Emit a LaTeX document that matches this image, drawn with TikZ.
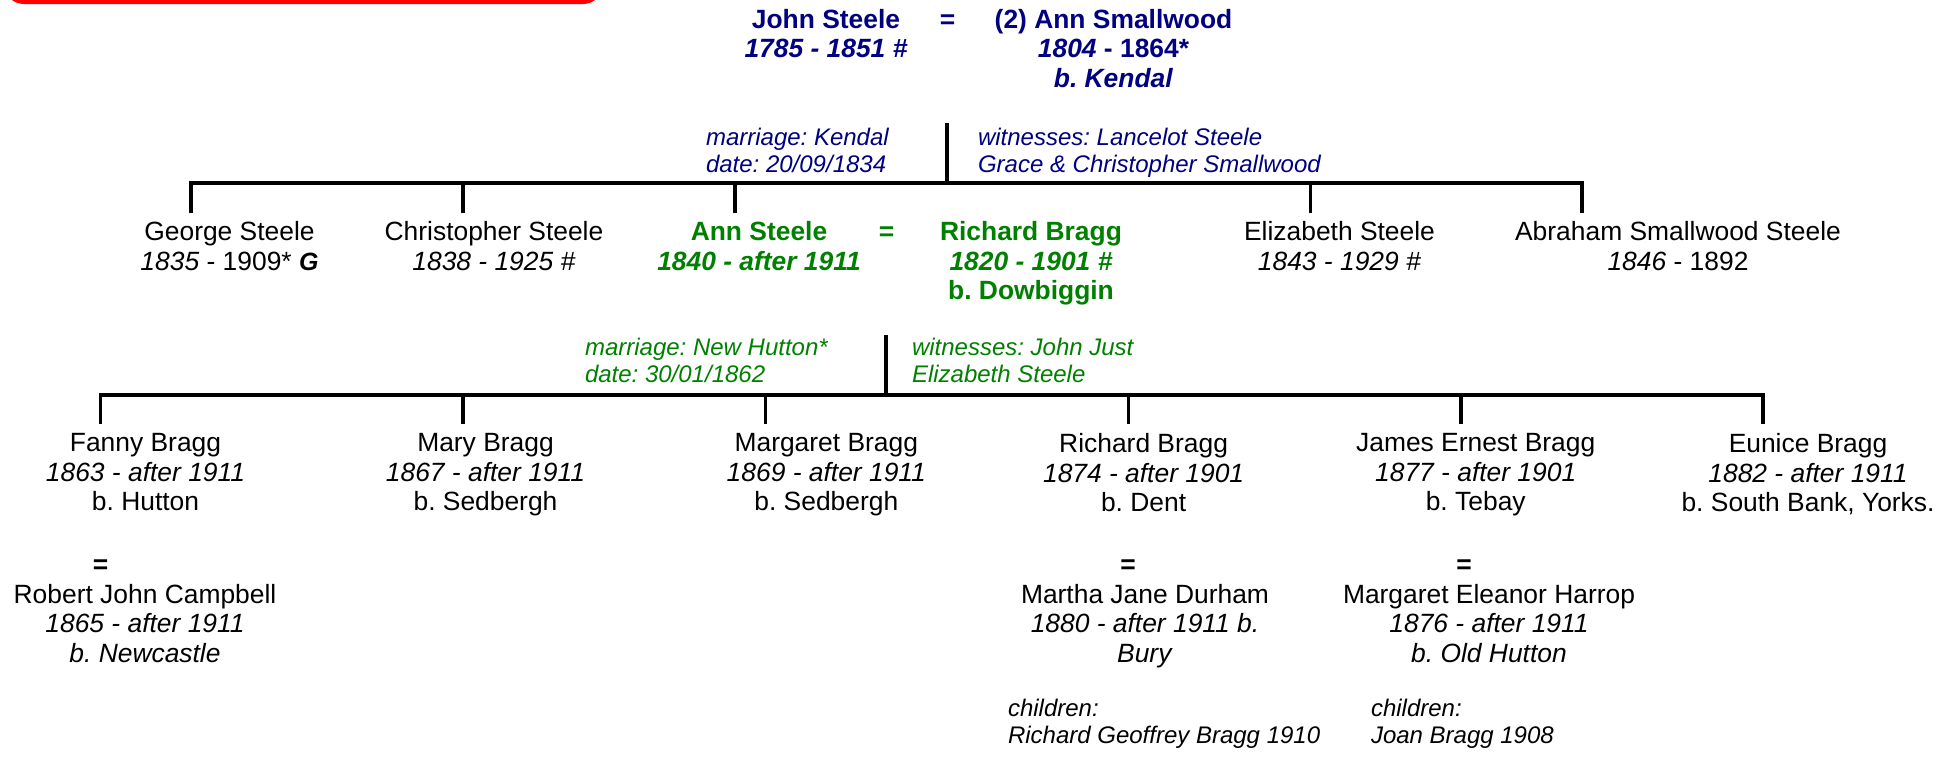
\documentclass[tikz,border=0pt]{standalone}
\usepackage{fontspec}
\setmainfont{Liberation Sans}
\definecolor{navy}{RGB}{0,0,128}
\definecolor{dgreen}{RGB}{0,128,0}
\newcommand\namefont{\fontsize{13.2}{14.75}\selectfont}
\newcommand\annfont{\fontsize{12}{13.35}\selectfont\itshape}
\frenchspacing
\begin{document}
\frenchspacing
\begin{tikzpicture}[x=0.5pt,y=-0.5pt,
  every node/.style={inner sep=0pt, outer sep=0pt},
  pn/.style={anchor=north, align=center, font=\namefont},
  eqs/.style={anchor=base, font=\namefont\bfseries},
  ann/.style={anchor=north west, align=left, font=\annfont},
  conn/.style={line width=1.75pt, line join=miter}]
\useasboundingbox (0,0) rectangle (1948,757);
\begin{scope}
\clip (0,0) rectangle (1948,757);
\fill[red, rounded corners=10pt] (4,-40) rectangle (603,4);
\end{scope}

% generation 1
\node[pn, text=navy, font=\namefont\bfseries] (js) at (826,9.3) {John Steele\\\textit{1785 - 1851 \#}};
\node[eqs, text=navy] (eq1) at (947.5,28.3) {=};
\node[pn, text=navy, font=\namefont\bfseries] (as) at (1113.5,9.3) {(2) Ann Smallwood\\\textit{1804} - 1864*\\\textit{b. Kendal}};

\node[ann, text=navy] (mk) at (706,128) {marriage: Kendal\\date: 20/09/1834};
\node[ann, text=navy] (wk) at (978,128) {witnesses: Lancelot Steele\\Grace \& Christopher Smallwood};

\coordinate (m1top) at (947,123);
\coordinate (m1bar) at (947,183);
\coordinate (gS) at (191,212.7);
\coordinate (cS) at (463,212.7);
\coordinate (aS) at (735,212.7);
\coordinate (eS) at (1310.5,212.7);
\coordinate (abS) at (1582,212.7);
\draw[conn] (m1top) -- (m1bar);
\draw[conn] (gS) |- (m1bar) -| (abS);
\draw[conn] (cS) -- (cS |- m1bar);
\draw[conn] (aS) -- (aS |- m1bar);
\draw[conn] (eS) -- (eS |- m1bar);

% generation 2
\node[pn] (george) at (229.5,221.7) {George Steele\\\textit{1835} - 1909* {\fontsize{12.5}{12.5}\selectfont\bfseries\itshape G}};
\node[pn] (chris) at (494,221.7) {Christopher Steele\\\textit{1838 - 1925 \#}};
\node[pn, text=dgreen, font=\namefont\bfseries] (ann) at (759,221.7) {Ann Steele\\\textit{1840 - after 1911}};
\node[eqs, text=dgreen] (eq2) at (886.5,240.7) {=};
\node[pn, text=dgreen, font=\namefont\bfseries] (rb) at (1031,221.7) {Richard Bragg\\\textit{1820 - 1901 \#}\\b. Dowbiggin};
\node[pn] (eliz) at (1339.5,221.7) {Elizabeth Steele\\\textit{1843 - 1929 \#}};
\node[pn] (abr) at (1678,221.7) {Abraham Smallwood Steele\\\textit{1846} - 1892};

\node[ann, text=dgreen] (mnh) at (585,338) {marriage: New Hutton*\\date: 30/01/1862};
\node[ann, text=dgreen] (wj) at (912,338) {witnesses: John Just\\Elizabeth Steele};

\coordinate (m2top) at (886,335);
\coordinate (m2bar) at (886,395);
\coordinate (fS) at (100.4,424);
\coordinate (mS) at (463,424);
\coordinate (maS) at (765.6,424);
\coordinate (rS) at (1128.5,424);
\coordinate (jS) at (1461,424);
\coordinate (euS) at (1763,424);
\draw[conn] (m2top) -- (m2bar);
\draw[conn] (fS) |- (m2bar) -| (euS);
\draw[conn] (mS) -- (mS |- m2bar);
\draw[conn] (maS) -- (maS |- m2bar);
\draw[conn] (rS) -- (rS |- m2bar);
\draw[conn] (jS) -- (jS |- m2bar);

% generation 3
\node[pn] (fanny) at (145.5,433.7) {Fanny Bragg\\\textit{1863 - after 1911}\\b. Hutton};
\node[pn] (mary) at (485.5,433.7) {Mary Bragg\\\textit{1867 - after 1911}\\b. Sedbergh};
\node[pn] (marg) at (826.3,433.7) {Margaret Bragg\\\textit{1869 - after 1911}\\b. Sedbergh};
\node[pn] (rich) at (1143.6,433.7) {Richard Bragg\\\textit{1874 - after 1901}\\b. Dent};
\node[pn] (james) at (1475.7,433.7) {James Ernest Bragg\\\textit{1877 - after 1901}\\b. Tebay};
\node[pn] (eunice) at (1808,433.7) {Eunice Bragg\\\textit{1882 - after 1911}\\b. South Bank, Yorks.};

\node[eqs] (eqf) at (100.6,573.5) {=};
\node[eqs] (eqr) at (1128,573.5) {=};
\node[eqs] (eqj) at (1464,573.5) {=};

\node[pn] (robert) at (145,584.3) {Robert John Campbell\\\textit{1865 - after 1911}\\\textit{b. Newcastle}};
\node[pn] (martha) at (1145,584.3) {Martha Jane Durham\\\textit{1880 - after 1911 b.}\\\textit{Bury}};
\node[pn] (marge) at (1489,584.3) {Margaret Eleanor Harrop\\\textit{1876 - after 1911}\\\textit{b. Old Hutton}};

\node[ann] (chr) at (1008,699.5) {children:\\Richard Geoffrey Bragg 1910};
\node[ann] (chj) at (1371,699.5) {children:\\Joan Bragg 1908};
\end{tikzpicture}
\end{document}
